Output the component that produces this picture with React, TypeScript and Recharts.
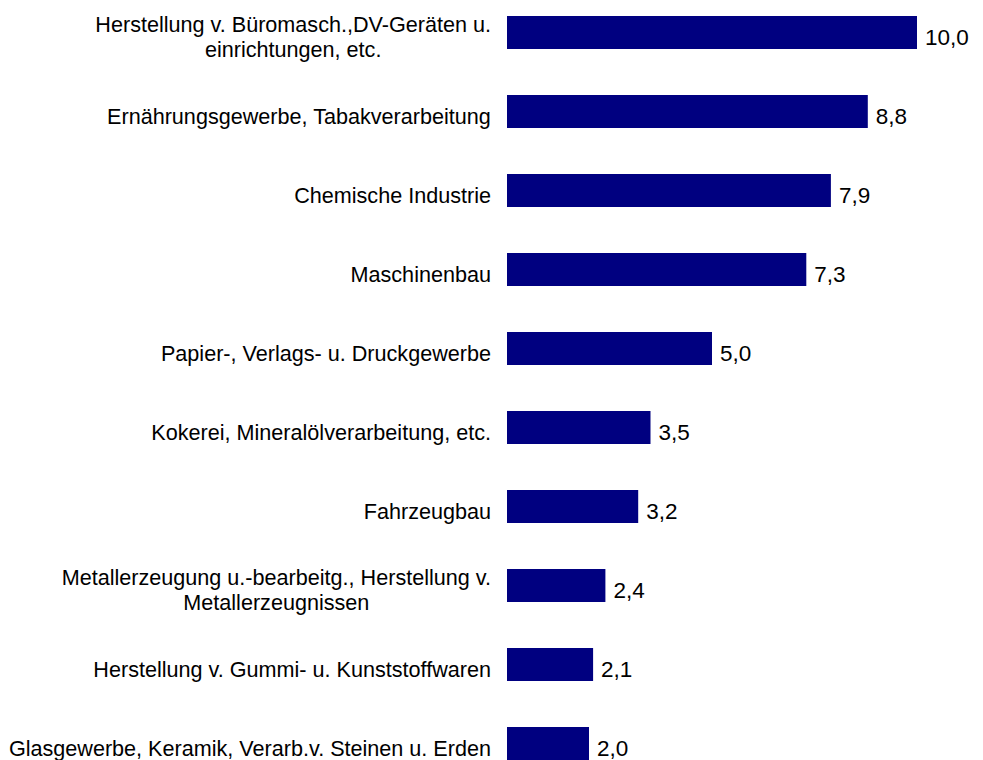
import { BarChart, Bar, XAxis, YAxis, LabelList } from "recharts";

// Branchen (Zeilenumbruch wie im Original)
const branchen = [
  "Herstellung v. Büromasch.,DV-Geräten u.\neinrichtungen, etc.",
  "Ernährungsgewerbe, Tabakverarbeitung",
  "Chemische Industrie",
  "Maschinenbau",
  "Papier-, Verlags- u. Druckgewerbe",
  "Kokerei, Mineralölverarbeitung, etc.",
  "Fahrzeugbau",
  "Metallerzeugung u.-bearbeitg., Herstellung v.\nMetallerzeugnissen",
  "Herstellung v. Gummi- u. Kunststoffwaren",
  "Glasgewerbe, Keramik, Verarb.v. Steinen u. Erden",
];

const werte = [10.0, 8.8, 7.9, 7.3, 5.0, 3.5, 3.2, 2.4, 2.1, 2.0];

const data = branchen.map((name, i) => ({ name, value: werte[i] }));

const FONT = '"Liberation Sans", Arial, sans-serif';
const LABEL_SIZE = 21.6;
const VALUE_SIZE = 22.5;
const LINE_H = 25;

let ctx: CanvasRenderingContext2D | null = null;
function textWidth(s: string) {
  if (!ctx) ctx = document.createElement("canvas").getContext("2d");
  if (!ctx) return s.length * LABEL_SIZE * 0.5;
  ctx.font = `${LABEL_SIZE}px ${FONT}`;
  return ctx.measureText(s).width;
}

function CategoryTick(props: any) {
  const { x, y, payload } = props;
  const lines: string[] = String(payload.value).split("\n");
  const blockW = Math.max(...lines.map(textWidth));
  const cx = x - blockW / 2;
  const firstBase = y + 12 - ((lines.length - 1) * LINE_H) / 2;
  return (
    <text fontFamily={FONT} fontSize={LABEL_SIZE} fill="#000" textAnchor="middle">
      {lines.map((l, i) => (
        <tspan key={i} x={cx} y={firstBase + i * LINE_H}>
          {l}
        </tspan>
      ))}
    </text>
  );
}

function ValueLabel(props: any) {
  const { x, y, width, height, value } = props;
  return (
    <text
      x={x + width + 8}
      y={y + height / 2 + 12}
      fontFamily={FONT}
      fontSize={VALUE_SIZE}
      fill="#000"
    >
      {Number(value).toFixed(1).replace(".", ",")}
    </text>
  );
}

export default function App() {
  return (
    <div style={{ position: "relative", width: 983, height: 760, overflow: "hidden", background: "#fff" }}>
      <style>{"body{margin:0}"}</style>
      <div style={{ position: "absolute", top: -7, left: 0 }}>
        <BarChart
          width={983}
          height={790}
          data={data}
          layout="vertical"
          margin={{ top: 0, right: 66, left: 0, bottom: 0 }}
        >
          <XAxis type="number" domain={[0, 10]} hide />
          <YAxis
            type="category"
            dataKey="name"
            width={507}
            axisLine={false}
            tickLine={false}
            tickSize={0}
            tickMargin={16}
            tick={<CategoryTick />}
            interval={0}
          />
          <Bar dataKey="value" fill="#000080" barSize={33} isAnimationActive={false}>
            <LabelList dataKey="value" content={<ValueLabel />} />
          </Bar>
        </BarChart>
      </div>
    </div>
  );
}
